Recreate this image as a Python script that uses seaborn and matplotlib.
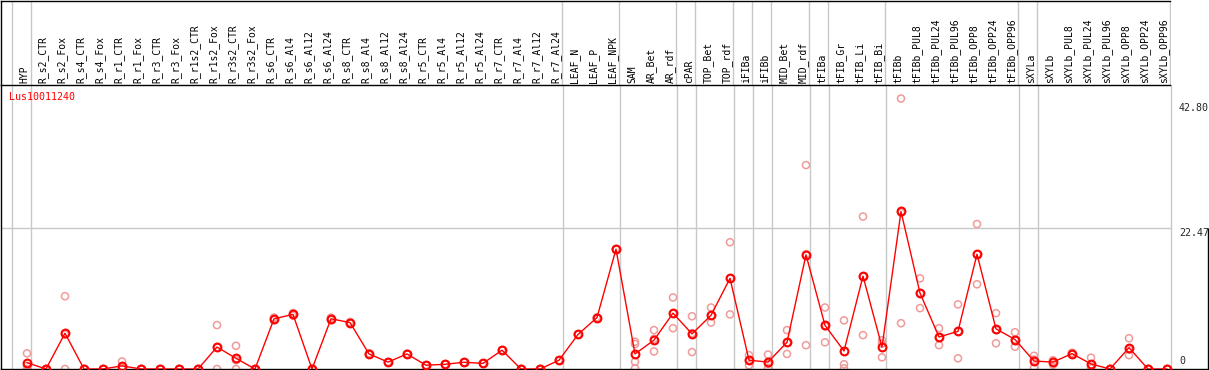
import numpy as np
import pandas as pd
import matplotlib
matplotlib.use("Agg")
import matplotlib.pyplot as plt
import matplotlib.transforms as mtransforms
import seaborn as sns

# --- data ---
samples = ["HYP",
           "R_s2_CTR", "R_s2_Fox", "R_s4_CTR", "R_s4_Fox", "R_r1_CTR", "R_r1_Fox",
           "R_r3_CTR", "R_r3_Fox", "R_r1s2_CTR", "R_r1s2_Fox", "R_r3s2_CTR", "R_r3s2_Fox",
           "R_s6_CTR", "R_s6_Al4", "R_s6_Al12", "R_s6_Al24", "R_s8_CTR", "R_s8_Al4",
           "R_s8_Al12", "R_s8_Al24", "R_r5_CTR", "R_r5_Al4", "R_r5_Al12", "R_r5_Al24",
           "R_r7_CTR", "R_r7_Al4", "R_r7_Al12", "R_r7_Al24",
           "LEAF_N", "LEAF_P", "LEAF_NPK",
           "SAM", "AR_Bet", "AR_rdf", "cPAR", "TOP_Bet", "TOP_rdf", "iFIBa", "iFIBb",
           "MID_Bet", "MID_rdf", "tFIBa", "tFIB_Gr", "tFIB_Li", "tFIB_Bi",
           "tFIBb", "tFIBb_PUL8", "tFIBb_PUL24", "tFIBb_PUL96", "tFIBb_OPP8",
           "tFIBb_OPP24", "tFIBb_OPP96",
           "sXYLa", "sXYLb", "sXYLb_PUL8", "sXYLb_PUL24", "sXYLb_PUL96", "sXYLb_OPP8",
           "sXYLb_OPP24", "sXYLb_OPP96"]

# sizes of the sample groups (separated by grey lines)
group_sizes = [1, 28, 3, 3, 1, 2, 1, 1, 2, 1, 3, 7, 1, 7]

mean_expr = [1.0,
             0, 5.7, 0, 0, 0.5, 0,
             0, 0, 0, 3.5, 1.7, 0,
             8.0, 8.7, 0, 8.0, 7.4, 2.4,
             1.1, 2.4, 0.6, 0.75, 1.07, 0.9,
             3.0, 0, 0, 1.4,
             5.5, 8.2, 19.1,
             2.4, 4.6, 8.9, 5.6, 8.55, 14.45, 1.4, 1.1,
             4.25, 18.2, 6.95, 2.87, 14.8, 3.5,
             25.1, 12.1, 5.1, 6.0, 18.3,
             6.4, 4.7,
             1.27, 1.1, 2.45, 0.8, 0, 3.4,
             0, 0]

rep_expr = [[2.5, 0.5, 0],
            [0, 0, 0], [11.6, 5.5, 0], [0, 0, 0], [0, 0, 0], [1.2, 0.3, 0], [0, 0, 0],
            [0, 0, 0], [0, 0, 0], [0, 0, 0], [7.0, 3.5, 0], [3.7, 1.4, 0], [0, 0, 0],
            [8.2, 8.0, 7.8], [8.9, 8.7, 8.5], [0, 0, 0], [8.2, 8.0, 7.8], [7.5, 7.4, 7.3],
            [2.5, 2.4, 2.3], [1.1, 1.1, 1.1], [2.4, 2.4, 2.4], [0.6, 0.6, 0.6],
            [0.75, 0.75, 0.75], [1.07, 1.07, 1.07], [0.9, 0.9, 0.9],
            [3.0, 3.0, 3.0], [0, 0, 0], [0, 0, 0], [1.4, 1.4, 1.4],
            [5.5, 5.5, 5.5], [8.2, 8.2, 8.2], [19.1, 19.1, 19.1],
            [4.35, 3.98, 1.16, 0.1], [6.2, 4.8, 2.8], [11.4, 8.8, 6.5], [8.4, 5.7, 2.7],
            [9.8, 8.5, 7.4], [20.2, 14.45, 8.7], [2.2, 1.4, 0.6], [2.3, 0.8, 0.2],
            [6.2, 4.2, 2.4], [32.5, 18.3, 3.8], [9.8, 6.8, 4.25], [7.75, 0.75, 0.1],
            [24.3, 14.7, 5.4], [4.6, 4.04, 1.86],
            [43.1, 24.9, 7.3], [14.45, 12.1, 9.7], [6.5, 5.0, 3.8], [10.3, 6.0, 1.7],
            [23.1, 18.3, 13.5], [8.9, 6.2, 4.1], [5.85, 4.7, 3.55],
            [2.1, 1.5, 0.2], [1.4, 1.2, 0.7], [2.6, 2.45, 2.3], [1.8, 0.5, 0.1],
            [0, 0, 0], [4.9, 3.1, 2.2], [0, 0, 0], [0, 0, 0]]

gene = "Lus10011240"
y_marks = ["42.80", "22.47", "0"]
y_vals = [42.80, 22.47, 0]

# --- tables ---
means = pd.DataFrame({"pos": np.arange(len(samples)), "sample": samples, "expr": mean_expr})
reps = pd.DataFrame([(i, v) for i, vals in enumerate(rep_expr) for v in vals],
                    columns=["pos", "expr"])

# --- layout (pixel based) ---
W, H = 1209, 370
X0, STEP = 27, 19          # pixel of first sample, pixel spacing
YSCALE = 141 / 22.47       # pixels per unit


def rect(x0, y0, x1, y1):
    return [x0 / W, 1 - y1 / H, (x1 - x0) / W, (y1 - y0) / H]


def px2x(p):
    return (p - X0) / STEP


sns.set_style("white")
plt.rcParams["font.family"] = ["DejaVu Sans Mono", "DejaVu Sans"]

fig = plt.figure(figsize=(W / 100, H / 100), dpi=100)
ax = fig.add_axes(rect(1, 85, 1208, 369))
hd = fig.add_axes(rect(1, 1, 1170.5, 85))

ax.set_xlim(px2x(1), px2x(1208))
ax.set_ylim(0, (369 - 85) / YSCALE)
hd.set_xlim(px2x(1), px2x(1170.5))
hd.set_ylim(0, 1)

grey = "#c8c8c8"
bounds = np.concatenate([[-1], np.cumsum(group_sizes) - 1]) + 3.5 / STEP
for b in bounds:
    ax.axvline(b, color=grey, lw=1.0, zorder=1)
    hd.axvline(b, color=grey, lw=1.0, zorder=1)
ax.hlines(22.47, px2x(1), bounds[-1], color=grey, lw=1.0, zorder=1)
ax.vlines(px2x(1208) - 0.02, 0, 22.47, color="black", lw=1.0, zorder=5, clip_on=False)

# replicates
sns.scatterplot(data=reps, x="pos", y="expr", ax=ax, marker="o", s=26,
                facecolors="none", edgecolor="#f09a9a", linewidth=1.1, zorder=2,
                legend=False)
# means
sns.lineplot(data=means, x="pos", y="expr", ax=ax, color="red", lw=1.0,
             marker="o", markersize=5.6, markerfacecolor="none",
             markeredgecolor="red", markeredgewidth=1.5, zorder=3)

for sp in ["top", "right"]:
    ax.spines[sp].set_visible(False)
for sp in ["left", "bottom"]:
    ax.spines[sp].set_color("black")
    ax.spines[sp].set_linewidth(1.0)
ax.set_xticks([])
ax.set_yticks([])
ax.set_xlabel("")
ax.set_ylabel("")

hd.spines["right"].set_visible(False)
for sp in ["left", "top", "bottom"]:
    hd.spines[sp].set_color("black")
    hd.spines[sp].set_linewidth(1.0)
hd.set_xticks([])
hd.set_yticks([])

lab_tr = mtransforms.offset_copy(hd.transData, fig=fig, x=-3, y=0, units="dots")
blend = mtransforms.blended_transform_factory(lab_tr, hd.transAxes)
for i, name in enumerate(samples):
    hd.text(i, 0.025, name, rotation=90, ha="center", va="bottom",
            fontsize=7, color="black", transform=blend)

ax.text(0.0066, 0.956, gene, transform=ax.transAxes, color="red",
        fontsize=7.2, ha="left", va="center")

xl = px2x(1179)
ax.text(xl, y_vals[0] - 0.4, y_marks[0], ha="left", va="top", fontsize=7.2)
ax.text(xl, y_vals[1], y_marks[1], ha="left", va="top", fontsize=7.2)
ax.text(xl, y_vals[2] + 0.5, y_marks[2], ha="left", va="bottom", fontsize=7.2)

fig.savefig("out.png", dpi=100)
